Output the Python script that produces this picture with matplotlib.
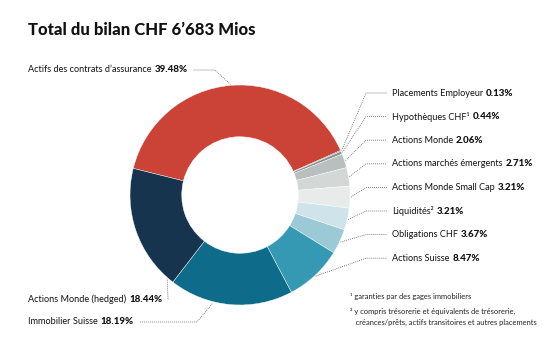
import numpy as np
import matplotlib.pyplot as plt

# =========================
# DATA
# =========================

names = [
    "Actifs des contrats d’assurance",
    "Placements Employeur",
    "Hypothèques CHF¹",
    "Actions Monde",
    "Actions marchés émergents",
    "Actions Monde Small Cap",
    "Liquidités²",
    "Obligations CHF",
    "Actions Suisse",
    "Immobilier Suisse",
    "Actions Monde (hedged)",
]

values = [39.48, 0.13, 0.44, 2.06, 2.71, 3.21, 3.21, 3.67, 8.47, 18.19, 18.44]

colors = [
    "#cb4236", "#4a4f50", "#8c9393", "#b8bfbe", "#d3d8d6", "#e7ebe9",
    "#cfe4ea", "#9bc9d6", "#3599b3", "#0e6b8a", "#17344f",
]

title = "Total du bilan CHF 6’683 Mios"

footnotes = [
    "¹ garanties par des gages immobiliers",
    "² y compris trésorerie et équivalents de trésorerie,",
    "   créances/prêts, actifs transitoires et autres placements",
]

# =========================
# FIGURE
# =========================

W, H = 555, 352
plt.rcParams["font.family"] = ["Lato", "DejaVu Sans"]

fig = plt.figure(figsize=(W / 100, H / 100), dpi=100)
ax = fig.add_axes([0, 0, 1, 1])

cx, cy = 240, H - 195
R = 110
start = 166

ax.pie(
    values,
    colors=colors,
    startangle=start,
    counterclock=False,
    radius=R,
    center=(cx, cy),
    frame=True,
    wedgeprops=dict(width=R * 0.47, edgecolor="white", linewidth=0.3),
)

ax.set_xlim(0, W)
ax.set_ylim(0, H)
ax.set_aspect("auto")
ax.axis("off")

renderer = fig.canvas.get_renderer()
FS = 6.6
dot = dict(color="#555555", linewidth=0.6, linestyle=(0, (1, 1.4)))


def label(x, y, name, pct):
    t = ax.text(x, y, name, fontsize=FS, va="center", ha="left", color="#111111")
    bb = t.get_window_extent(renderer)
    x2 = ax.transData.inverted().transform((bb.x1, 0))[0] + 3
    t2 = ax.text(x2, y, pct, fontsize=FS + 0.4, fontweight="black",
                 va="center", ha="left", color="#111111")
    bb2 = t2.get_window_extent(renderer)
    return ax.transData.inverted().transform((bb2.x1, 0))[0]


def edge(angle, r=R + 1):
    a = np.deg2rad(angle)
    return cx + r * np.cos(a), cy + r * np.sin(a)


# mid angles of wedges
cum = np.cumsum([0] + values[:-1])
mids = start - (cum + np.array(values) / 2) * 3.6

# title
ax.text(28, H - 30, title, fontsize=12, fontweight="black",
        va="center", ha="left", color="#111111")

# right side labels
for i in range(1, 9):
    y = H - (93 + (i - 1) * 23.6)
    label(392, y, names[i], f"{values[i]:.2f}%")
    ex, ey = edge(mids[i])
    ax.plot([ex, 366, 387], [ey, y, y], **dot)

# left side labels
left = [
    (0, 70, 215, mids[0]),
    (10, 299, 168, 229),
    (9, 322, 197, 256),
]
for i, yi, elbow_x, ang in left:
    y = H - yi
    xe = label(28, y, names[i], f"{values[i]:.2f}%")
    ex, ey = edge(ang)
    ax.plot([xe + 6, elbow_x, ex], [y, y, ey], **dot)

# footnotes
for fy, txt in zip([297, 311, 322], footnotes):
    ax.text(350, H - fy, txt, fontsize=5.4, va="center", ha="left", color="#222222")

fig.savefig("out.png", dpi=100)
